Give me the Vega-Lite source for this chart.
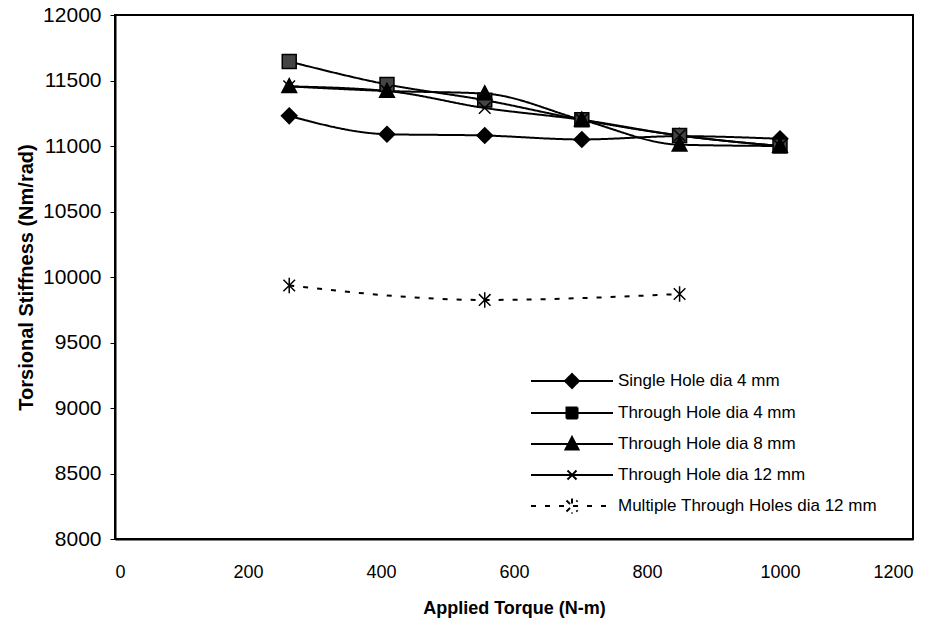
{
  "$schema": "https://vega.github.io/schema/vega-lite/v6.json",
  "width": 798,
  "height": 524,
  "autosize": {"type": "none"},
  "padding": {"left": 115, "top": 15, "right": 24, "bottom": 84},
  "background": "white",
  "config": {
    "font": "Liberation Sans",
    "view": {"stroke": "black", "strokeWidth": 2},
    "axis": {"grid": false, "domainColor": "black", "domainWidth": 2, "tickColor": "black", "labelColor": "black", "titleColor": "black", "labelFont": "Liberation Sans", "titleFont": "Liberation Sans", "format": "d"}
  },
  "data": {
    "values": [
      {"series": "Single Hole dia 4 mm", "torque": 262, "stiffness": 11230},
      {"series": "Single Hole dia 4 mm", "torque": 409, "stiffness": 11090},
      {"series": "Single Hole dia 4 mm", "torque": 556, "stiffness": 11080},
      {"series": "Single Hole dia 4 mm", "torque": 702, "stiffness": 11050},
      {"series": "Single Hole dia 4 mm", "torque": 849, "stiffness": 11075},
      {"series": "Single Hole dia 4 mm", "torque": 1000, "stiffness": 11055},
      {"series": "Through Hole dia 4 mm", "torque": 262, "stiffness": 11645},
      {"series": "Through Hole dia 4 mm", "torque": 409, "stiffness": 11470},
      {"series": "Through Hole dia 4 mm", "torque": 556, "stiffness": 11350},
      {"series": "Through Hole dia 4 mm", "torque": 702, "stiffness": 11200},
      {"series": "Through Hole dia 4 mm", "torque": 849, "stiffness": 11080},
      {"series": "Through Hole dia 4 mm", "torque": 1000, "stiffness": 11000},
      {"series": "Through Hole dia 8 mm", "torque": 262, "stiffness": 11455},
      {"series": "Through Hole dia 8 mm", "torque": 409, "stiffness": 11420},
      {"series": "Through Hole dia 8 mm", "torque": 556, "stiffness": 11400},
      {"series": "Through Hole dia 8 mm", "torque": 702, "stiffness": 11200},
      {"series": "Through Hole dia 8 mm", "torque": 849, "stiffness": 11010},
      {"series": "Through Hole dia 8 mm", "torque": 1000, "stiffness": 11000},
      {"series": "Through Hole dia 12 mm", "torque": 262, "stiffness": 11455},
      {"series": "Through Hole dia 12 mm", "torque": 409, "stiffness": 11420},
      {"series": "Through Hole dia 12 mm", "torque": 556, "stiffness": 11290},
      {"series": "Through Hole dia 12 mm", "torque": 702, "stiffness": 11200},
      {"series": "Through Hole dia 12 mm", "torque": 849, "stiffness": 11080},
      {"series": "Through Hole dia 12 mm", "torque": 1000, "stiffness": 11000},
      {"series": "Multiple Through Holes dia 12 mm", "torque": 262, "stiffness": 9935},
      {"series": "Multiple Through Holes dia 12 mm", "torque": 556, "stiffness": 9825},
      {"series": "Multiple Through Holes dia 12 mm", "torque": 849, "stiffness": 9870}
    ]
  },
  "encoding": {
    "x": {"field": "torque", "type": "quantitative", "scale": {"domain": [0, 1200], "nice": false},
      "axis": {"title": "Applied Torque (N-m)", "values": [0, 200, 400, 600, 800, 1000, 1200], "ticks": false, "labelPadding": 24, "labelFontSize": 18, "titleFontSize": 18, "titleFontWeight": "bold", "titlePadding": 18}},
    "y": {"field": "stiffness", "type": "quantitative", "scale": {"domain": [8000, 12000], "nice": false, "zero": false},
      "axis": {"title": "Torsional Stiffness (Nm/rad)", "values": [8000, 8500, 9000, 9500, 10000, 10500, 11000, 11500, 12000], "tickSize": 5, "labelPadding": 9, "labelFontSize": 21, "titleFontSize": 20, "titleFontWeight": "bold", "titlePadding": 6}}
  },
  "resolve": {"scale": {"shape": "independent", "color": "independent", "strokeDash": "independent"}, "legend": {"shape": "independent", "color": "independent", "strokeDash": "independent"}},
  "layer": [
    {
      "mark": {"type": "line", "interpolate": "monotone", "color": "black", "strokeWidth": 2},
      "encoding": {
        "strokeDash": {"field": "series", "type": "nominal",
          "scale": {"domain": ["Single Hole dia 4 mm", "Through Hole dia 4 mm", "Through Hole dia 8 mm", "Through Hole dia 12 mm", "Multiple Through Holes dia 12 mm"],
            "range": [[1, 0], [1, 0], [1, 0], [1, 0], [5, 9]]},
          "legend": {
            "title": null, "orient": "none", "legendX": 477, "legendY": 355, "padding": 0,
            "symbolSize": 400, "symbolStrokeWidth": 2, "symbolStrokeColor": "black", "symbolFillColor": "black",
            "labelFontSize": 17, "labelColor": "black", "labelOffset": 4, "rowPadding": 10, "labelLimit": 400,
            "encode": {"symbols": {"update": {
              "fill": {"value": "black"},
              "stroke": {"value": "black"},
              "shape": {"signal": "datum.value == 'Single Hole dia 4 mm' ? 'M-7.2,0H1M-3.1,-0.7L-2.4,0L-3.1,0.7L-3.8,0Z' : datum.value == 'Through Hole dia 4 mm' ? 'M-7.2,0H1M-3.65,-0.55H-2.55V0.55H-3.65Z' : datum.value == 'Through Hole dia 8 mm' ? 'M-7.2,0H1M-3.1,-0.7L-2.45,0.55H-3.75Z' : datum.value == 'Through Hole dia 12 mm' ? 'M-7.2,0H1M-3.55,-0.45L-2.65,0.45M-3.55,0.45L-2.65,-0.45' : 'M-7.2,0H1M-3.65,-0.55L-2.55,0.55M-3.65,0.55L-2.55,-0.55M-3.1,-0.75V0.75'"}
            }}}
          }
        }
      }
    },
    {
      "mark": {"type": "point", "filled": true, "stroke": "black", "strokeWidth": 1.5, "opacity": 1, "size": 240},
      "encoding": {
        "shape": {"field": "series", "type": "nominal", "legend": null,
          "scale": {"domain": ["Single Hole dia 4 mm", "Through Hole dia 4 mm", "Through Hole dia 8 mm", "Through Hole dia 12 mm", "Multiple Through Holes dia 12 mm"],
            "range": ["M0,-1L1,0L0,1L-1,0Z", "M-0.9,-0.9H0.9V0.9H-0.9Z", "M0,-1L0.95,0.8H-0.95Z", "M-0.75,-0.75L0.75,0.75M-0.75,0.75L0.75,-0.75", "M-0.75,-0.75L0.75,0.75M-0.75,0.75L0.75,-0.75M0,-1V1"]}},
        "color": {"field": "series", "type": "nominal", "legend": null,
          "scale": {"domain": ["Single Hole dia 4 mm", "Through Hole dia 4 mm", "Through Hole dia 8 mm", "Through Hole dia 12 mm", "Multiple Through Holes dia 12 mm"],
            "range": ["black", "#444444", "black", "#888888", "black"]}}
      }
    }
  ]
}
